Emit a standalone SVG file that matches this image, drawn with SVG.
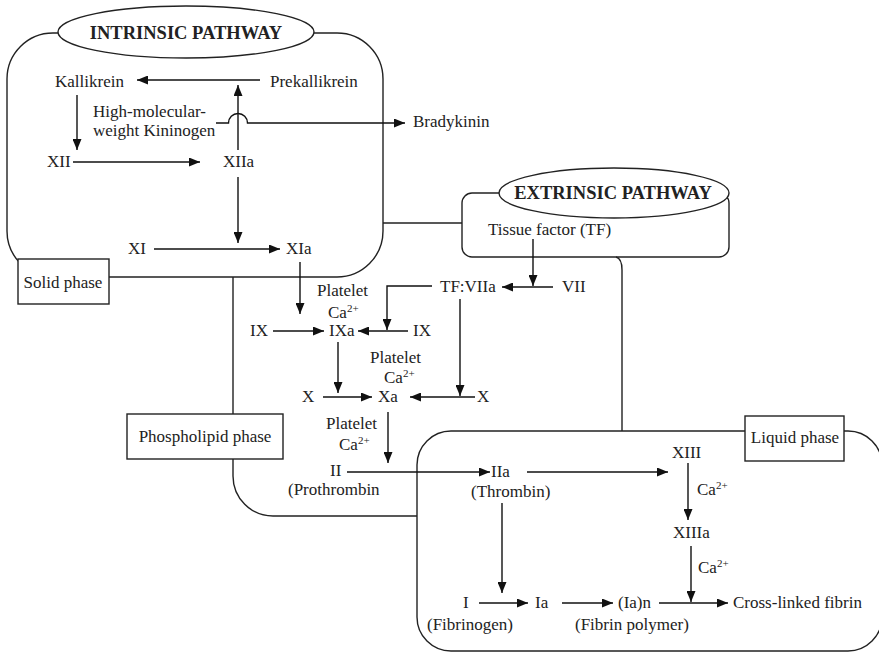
<svg xmlns="http://www.w3.org/2000/svg" width="879" height="652" viewBox="0 0 879 652">
<defs>
<marker id="ah" markerWidth="11" markerHeight="9" refX="11" refY="4.5" orient="auto" markerUnits="userSpaceOnUse"><path d="M0,0 L11,4.5 L0,9 z" fill="#111"/></marker>
</defs>
<style>
text{font-family:"Liberation Serif","Times New Roman",serif;font-size:17px;fill:#222}
.b{font-weight:bold;font-size:18.5px}
.sup{font-size:11px}
.frame{fill:none;stroke:#222;stroke-width:1.4}
.box{fill:#fff;stroke:#222;stroke-width:1.4}
.c line,.c path{fill:none;stroke:#111;stroke-width:1.4}
.a{marker-end:url(#ah)}
</style>
<rect width="879" height="652" fill="#fff"/>

<g id="phases">
<rect class="frame" x="7" y="33" width="376" height="244" rx="46"/>
<rect class="frame" x="462" y="193" width="267" height="64" rx="10"/>
<rect class="frame" x="417" y="431" width="465" height="220" rx="34"/>
<path class="frame" d="M233,277 V414 M233,459 V476 A40,40 0 0 0 273,516 H417 M383,223 H462 M616,257 C620,258 622,262 622,270 V431"/>
</g>

<g id="intrinsic-title"><ellipse class="box" cx="186" cy="32" rx="128" ry="26"/><text class="b" x="186" y="39" text-anchor="middle">INTRINSIC PATHWAY</text></g>
<g id="extrinsic-title"><ellipse class="box" cx="614" cy="193" rx="115" ry="25"/><text class="b" x="613" y="199" text-anchor="middle">EXTRINSIC PATHWAY</text></g>
<g id="solid-phase"><rect class="box" x="18" y="259" width="91" height="45"/><text x="63" y="288" text-anchor="middle">Solid phase</text></g>
<g id="phospholipid-phase"><rect class="box" x="127" y="414" width="156" height="45"/><text x="205" y="442" text-anchor="middle">Phospholipid phase</text></g>
<g id="liquid-phase"><rect class="box" x="745" y="416" width="99" height="45"/><text x="795" y="443" text-anchor="middle">Liquid phase</text></g>

<g id="connectors" class="c">
<line class="a" x1="260" y1="80" x2="137" y2="80"/>
<line class="a" x1="238" y1="150" x2="238" y2="85"/>
<path class="a" d="M216,123 H228.5 A9.5,9.5 0 0 1 247.5,123 H405"/>
<line class="a" x1="77" y1="95" x2="77" y2="150"/>
<line class="a" x1="73" y1="162" x2="200" y2="162"/>
<line class="a" x1="238" y1="177" x2="238" y2="243"/>
<line class="a" x1="154" y1="249" x2="280" y2="249"/>
<line class="a" x1="300" y1="262" x2="300" y2="314"/>
<line class="a" x1="533" y1="239" x2="533" y2="286"/>
<line class="a" x1="553" y1="287" x2="502" y2="287"/>
<path class="a" d="M432,286 H387 V330"/>
<line class="a" x1="460" y1="299" x2="460" y2="396"/>
<line class="a" x1="273" y1="331" x2="324" y2="331"/>
<line class="a" x1="408" y1="331" x2="358" y2="331"/>
<line class="a" x1="338" y1="342" x2="338" y2="393"/>
<line class="a" x1="323" y1="397" x2="372" y2="397"/>
<line class="a" x1="475" y1="397" x2="410" y2="397"/>
<line class="a" x1="388" y1="412" x2="388" y2="463"/>
<line class="a" x1="347" y1="472" x2="490" y2="472"/>
<line class="a" x1="527" y1="472" x2="668" y2="472"/>
<line class="a" x1="688" y1="463" x2="688" y2="520"/>
<line class="a" x1="691" y1="546" x2="691" y2="602"/>
<line class="a" x1="502" y1="503" x2="502" y2="593"/>
<line class="a" x1="479" y1="603" x2="528" y2="603"/>
<line class="a" x1="562" y1="603" x2="613" y2="603"/>
<line class="a" x1="659" y1="603" x2="728" y2="603"/>
</g>

<g id="kallikrein"><text x="55" y="87">Kallikrein</text></g>
<g id="prekallikrein"><text x="270" y="87">Prekallikrein</text></g>
<g id="hmwk"><text x="93" y="117">High-molecular-</text><text x="93" y="136">weight Kininogen</text></g>
<g id="bradykinin"><text x="413" y="127">Bradykinin</text></g>
<g id="xii"><text x="47" y="167">XII</text></g>
<g id="xiia"><text x="223" y="167">XIIa</text></g>
<g id="xi"><text x="128" y="254">XI</text></g>
<g id="xia"><text x="286" y="254">XIa</text></g>
<g id="tissue-factor"><text x="488" y="235">Tissue factor (TF)</text></g>
<g id="vii"><text x="562" y="292">VII</text></g>
<g id="tfviia"><text x="440" y="292">TF:VIIa</text></g>
<g id="cofactor1"><text x="317" y="296">Platelet</text><text x="328" y="318">Ca<tspan class="sup" dy="-6">2+</tspan></text></g>
<g id="ix-left"><text x="250" y="336">IX</text></g>
<g id="ixa"><text x="329" y="336">IXa</text></g>
<g id="ix-right"><text x="413" y="336">IX</text></g>
<g id="cofactor2"><text x="370" y="363">Platelet</text><text x="384" y="383">Ca<tspan class="sup" dy="-6">2+</tspan></text></g>
<g id="x-left"><text x="302" y="402">X</text></g>
<g id="xa"><text x="378" y="402">Xa</text></g>
<g id="x-right"><text x="477" y="402">X</text></g>
<g id="cofactor3"><text x="326" y="429">Platelet</text><text x="339" y="450">Ca<tspan class="sup" dy="-6">2+</tspan></text></g>
<g id="ii"><text x="330" y="476">II</text><text x="288" y="495">(Prothrombin</text></g>
<g id="iia"><text x="491" y="477">IIa</text><text x="471" y="497">(Thrombin)</text></g>
<g id="xiii"><text x="672" y="458">XIII</text></g>
<g id="ca-xiii"><text x="697" y="495">Ca<tspan class="sup" dy="-6">2+</tspan></text></g>
<g id="xiiia"><text x="673" y="538">XIIIa</text></g>
<g id="ca-xiiia"><text x="698" y="573">Ca<tspan class="sup" dy="-6">2+</tspan></text></g>
<g id="i"><text x="463" y="608">I</text><text x="427" y="630">(Fibrinogen)</text></g>
<g id="ia"><text x="535" y="608">Ia</text></g>
<g id="ian"><text x="618" y="608">(Ia)n</text><text x="575" y="630">(Fibrin polymer)</text></g>
<g id="cross-linked"><text x="733" y="608">Cross-linked fibrin</text></g>
</svg>
